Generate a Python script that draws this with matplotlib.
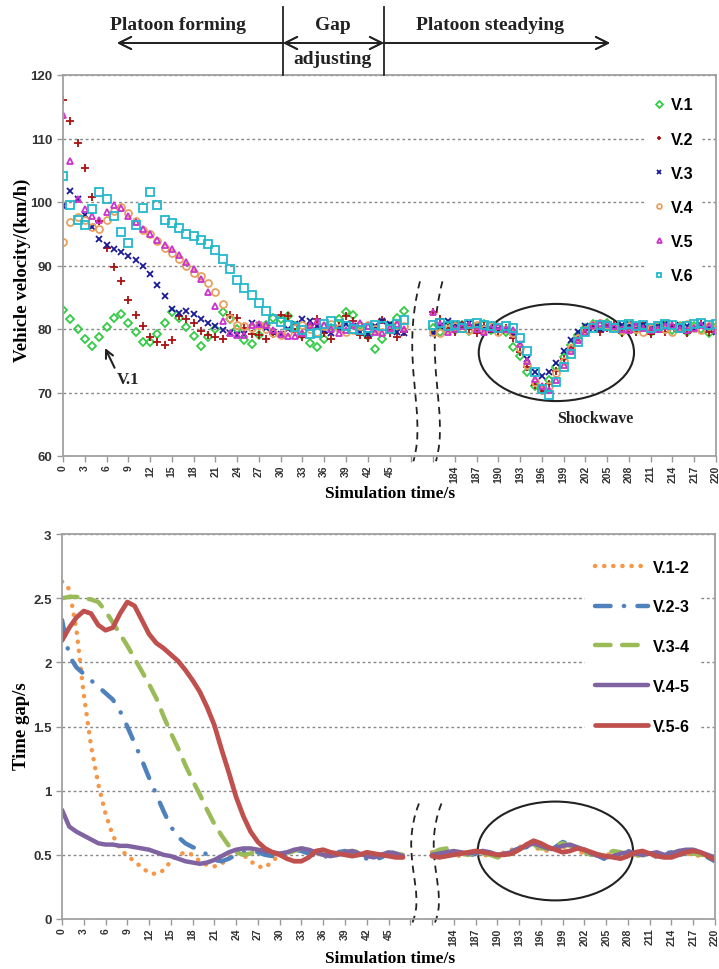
import numpy as np
import matplotlib.pyplot as plt
from matplotlib.patches import Ellipse, PathPatch
from matplotlib.path import Path

# time stamps of the two plotted windows (s)
t_a = list(range(0, 48))
t_b = list(range(181, 221))

# vehicle velocity (km/h), first window then second window
v1_a = [83.0, 81.6, 80.0, 78.5, 77.4, 78.8, 80.3, 81.7, 82.3, 80.9,
        79.5, 78.0, 78.0, 79.2, 80.9, 82.6, 81.8, 80.3, 78.9, 77.4,
        78.7, 80.0, 82.6, 81.5, 80.0, 78.3, 77.6, 79.0, 80.6, 81.8,
        81.5, 82.0, 80.5, 79.0, 77.8, 77.1, 78.5, 80.2, 81.6, 82.6,
        82.2, 80.6, 78.9, 76.8, 78.5, 80.4, 81.8, 82.8]
v1_b = [80.2, 79.5, 80.4, 79.8, 80.6, 79.7, 80.3, 80.8, 79.9, 80.2,
        79.6, 77.2, 75.8, 73.2, 71.0, 70.6, 72.0, 74.0, 75.6, 77.5,
        79.0, 80.2, 80.8, 80.5, 81.0, 80.2, 79.6, 80.4, 79.8, 80.3,
        79.5, 80.2, 80.7, 79.9, 80.4, 79.6, 80.5, 80.0, 79.4, 80.3]
v2_a = [116.1, 112.8, 109.3, 105.3, 100.8, 97.0, 92.7, 89.7, 87.6, 84.6,
        82.2, 80.4, 78.7, 78.0, 77.5, 78.3, 82.0, 81.5, 81.0, 79.7,
        79.0, 78.7, 78.5, 82.2, 81.8, 80.2, 79.2, 79.0, 78.5, 79.2,
        82.2, 82.0, 79.5, 78.8, 80.6, 81.6, 79.4, 78.5, 80.4, 82.0,
        81.2, 79.0, 78.6, 80.0, 81.4, 79.4, 78.8, 79.6]
v2_b = [82.6, 81.6, 80.2, 79.6, 80.6, 80.0, 79.4, 80.4, 80.0, 79.6,
        80.2, 78.6, 76.4, 74.0, 71.2, 70.2, 71.4, 73.4, 75.2, 77.0,
        78.6, 79.8, 80.4, 79.6, 80.2, 80.6, 79.4, 80.0, 79.6, 80.4,
        79.2, 80.0, 79.6, 80.6, 80.0, 79.4, 80.2, 80.8, 79.6, 80.0]
v3_a = [99.4, 101.7, 100.4, 98.0, 96.0, 94.1, 93.2, 92.6, 92.2, 91.5,
        90.8, 90.0, 88.7, 87.0, 85.2, 83.1, 82.5, 82.8, 82.4, 81.6,
        81.0, 80.5, 79.8, 79.3, 79.0, 79.2, 81.0, 80.6, 80.2, 79.6,
        79.2, 80.0, 80.8, 81.6, 81.2, 80.4, 79.8, 79.4, 80.2, 80.8,
        80.4, 79.6, 79.2, 80.4, 81.2, 80.8, 79.6, 79.4]
v3_b = [79.4, 80.4, 81.2, 80.8, 80.6, 80.9, 80.4, 80.2, 79.8, 80.0,
        79.8, 79.4, 77.6, 75.2, 73.2, 72.6, 73.2, 74.6, 76.6, 78.2,
        79.6, 80.4, 80.2, 80.0, 80.2, 80.4, 80.6, 80.8, 80.4, 80.6,
        80.2, 80.4, 80.8, 80.2, 80.6, 80.4, 80.0, 80.6, 80.2, 79.6]
v4_a = [93.7, 96.8, 97.6, 97.2, 96.0, 95.8, 97.2, 98.6, 99.2, 98.2,
        97.0, 95.6, 94.9, 93.8, 92.8, 91.9, 91.0, 90.0, 88.8, 88.4,
        87.3, 85.9, 84.0, 81.8, 80.6, 80.4, 80.2, 80.6, 80.0, 79.4,
        79.0, 79.6, 80.2, 80.6, 80.0, 79.6, 80.4, 80.8, 80.2, 79.6,
        79.8, 80.4, 80.6, 80.0, 79.6, 80.2, 80.6, 80.4]
v4_b = [79.6, 79.4, 80.0, 80.4, 80.2, 79.8, 80.6, 80.0, 80.4, 79.6,
        80.0, 79.4, 77.0, 74.4, 71.6, 70.4, 71.0, 73.0, 75.0, 77.0,
        78.6, 79.8, 80.6, 81.0, 80.6, 80.2, 79.8, 80.4, 80.0, 79.6,
        80.2, 80.6, 80.0, 79.6, 80.4, 80.8, 80.2, 79.8, 80.4, 80.2]
v5_a = [113.7, 106.5, 100.4, 98.9, 97.8, 97.2, 98.4, 99.6, 99.0, 97.8,
        96.8, 95.7, 95.0, 94.0, 93.3, 92.6, 91.6, 90.6, 89.4, 87.9,
        85.8, 83.7, 81.3, 79.3, 79.0, 79.0, 80.6, 80.8, 80.6, 79.8,
        79.2, 78.9, 78.9, 79.4, 80.6, 81.2, 80.6, 80.0, 79.4, 79.8,
        80.6, 81.0, 80.4, 79.6, 79.4, 80.2, 80.8, 80.0]
v5_b = [82.7, 80.8, 79.6, 80.0, 80.4, 80.6, 80.0, 79.6, 80.2, 80.4,
        80.0, 79.8, 77.6, 75.0, 72.2, 71.0, 70.4, 72.0, 74.4, 76.6,
        78.2, 79.6, 80.6, 81.0, 80.8, 80.4, 80.0, 79.8, 80.4, 80.2,
        79.8, 80.0, 80.4, 80.6, 80.0, 79.8, 80.2, 80.6, 80.4, 79.8]
v6_a = [104.1, 99.5, 97.1, 96.4, 98.9, 101.6, 100.4, 97.8, 95.2, 93.6,
        96.4, 99.0, 101.6, 99.6, 97.1, 96.7, 95.9, 94.9, 94.6, 94.0,
        93.4, 92.5, 91.0, 89.4, 87.7, 86.4, 85.3, 84.1, 82.9, 81.5,
        81.1, 80.6, 80.3, 79.8, 79.2, 79.4, 80.8, 81.2, 80.8, 80.4,
        80.0, 79.8, 80.2, 80.6, 80.4, 80.0, 80.8, 81.4]
v6_b = [80.6, 81.0, 80.4, 80.6, 80.2, 80.8, 81.0, 80.6, 80.4, 80.2,
        80.4, 80.2, 78.6, 76.6, 73.2, 70.6, 69.6, 71.6, 74.0, 76.0,
        78.0, 79.6, 80.2, 80.6, 80.4, 80.2, 80.6, 80.8, 80.4, 80.6,
        80.2, 80.4, 80.8, 80.6, 80.2, 80.4, 80.8, 81.0, 80.6, 80.8]

# time gap (s)
g12_a = [2.63, 2.57, 2.25, 1.75, 1.35, 1.05, 0.82, 0.65, 0.55, 0.49,
         0.45, 0.40, 0.36, 0.35, 0.38, 0.45, 0.50, 0.52, 0.50, 0.45,
         0.42, 0.41, 0.43, 0.48, 0.52, 0.50, 0.45, 0.41, 0.40, 0.45,
         0.50, 0.52, 0.53, 0.54, 0.53, 0.51, 0.50, 0.49, 0.50, 0.51,
         0.52, 0.51, 0.50, 0.49, 0.50, 0.51, 0.50, 0.49]
g12_b = [0.52, 0.50, 0.51, 0.50, 0.49, 0.50, 0.51, 0.50, 0.49, 0.50,
         0.52, 0.54, 0.56, 0.58, 0.56, 0.54, 0.53, 0.55, 0.56, 0.55,
         0.53, 0.51, 0.50, 0.49, 0.50, 0.51, 0.50, 0.49, 0.50, 0.51,
         0.50, 0.49, 0.50, 0.51, 0.52, 0.51, 0.50, 0.49, 0.50, 0.50]
g23_a = [2.33, 2.05, 1.96, 1.91, 1.86, 1.81, 1.76, 1.71, 1.62, 1.50,
         1.37, 1.24, 1.10, 0.97, 0.84, 0.72, 0.64, 0.59, 0.56, 0.54,
         0.50, 0.46, 0.45, 0.47, 0.50, 0.52, 0.53, 0.52, 0.50, 0.49,
         0.50, 0.52, 0.54, 0.53, 0.51, 0.49, 0.48, 0.50, 0.52, 0.53,
         0.51, 0.49, 0.47, 0.46, 0.48, 0.51, 0.52, 0.50]
g23_b = [0.50, 0.53, 0.54, 0.52, 0.50, 0.49, 0.51, 0.53, 0.51, 0.49,
         0.50, 0.53, 0.55, 0.56, 0.58, 0.56, 0.53, 0.56, 0.60, 0.58,
         0.55, 0.53, 0.51, 0.49, 0.46, 0.50, 0.52, 0.53, 0.51, 0.50,
         0.47, 0.49, 0.51, 0.52, 0.50, 0.51, 0.54, 0.52, 0.48, 0.45]
g34_a = [2.50, 2.51, 2.51, 2.50, 2.49, 2.47, 2.40, 2.31, 2.22, 2.13,
         2.03, 1.93, 1.83, 1.72, 1.58, 1.45, 1.33, 1.20, 1.08, 0.97,
         0.85, 0.74, 0.65, 0.57, 0.52, 0.50, 0.51, 0.53, 0.54, 0.52,
         0.50, 0.51, 0.53, 0.55, 0.54, 0.52, 0.50, 0.49, 0.50, 0.52,
         0.53, 0.52, 0.50, 0.49, 0.50, 0.52, 0.51, 0.50]
g34_b = [0.51, 0.54, 0.55, 0.53, 0.51, 0.50, 0.52, 0.51, 0.50, 0.48,
         0.49, 0.51, 0.54, 0.57, 0.58, 0.55, 0.55, 0.58, 0.59, 0.57,
         0.54, 0.52, 0.50, 0.50, 0.51, 0.53, 0.52, 0.50, 0.49, 0.50,
         0.51, 0.50, 0.49, 0.51, 0.53, 0.52, 0.51, 0.50, 0.50, 0.49]
g45_a = [0.85, 0.72, 0.68, 0.65, 0.62, 0.59, 0.58, 0.58, 0.57, 0.57,
         0.56, 0.55, 0.54, 0.52, 0.50, 0.49, 0.47, 0.45, 0.44, 0.43,
         0.44, 0.46, 0.49, 0.52, 0.54, 0.55, 0.55, 0.54, 0.53, 0.52,
         0.51, 0.52, 0.54, 0.55, 0.54, 0.52, 0.50, 0.49, 0.50, 0.52,
         0.53, 0.51, 0.49, 0.48, 0.50, 0.52, 0.51, 0.49]
g45_b = [0.50, 0.51, 0.52, 0.53, 0.52, 0.51, 0.52, 0.53, 0.52, 0.50,
         0.51, 0.52, 0.55, 0.57, 0.59, 0.57, 0.55, 0.55, 0.57, 0.58,
         0.56, 0.54, 0.51, 0.49, 0.48, 0.49, 0.51, 0.52, 0.51, 0.50,
         0.51, 0.52, 0.50, 0.51, 0.53, 0.54, 0.54, 0.52, 0.50, 0.48]
g56_a = [2.17, 2.27, 2.35, 2.40, 2.38, 2.29, 2.25, 2.27, 2.38, 2.47,
         2.44, 2.33, 2.22, 2.15, 2.11, 2.06, 2.01, 1.94, 1.86, 1.77,
         1.65, 1.51, 1.32, 1.14, 0.95, 0.80, 0.68, 0.60, 0.55, 0.52,
         0.50, 0.47, 0.45, 0.45, 0.48, 0.53, 0.54, 0.52, 0.51, 0.50,
         0.49, 0.50, 0.52, 0.51, 0.50, 0.49, 0.48, 0.48]
g56_b = [0.49, 0.48, 0.49, 0.50, 0.51, 0.52, 0.53, 0.52, 0.51, 0.50,
         0.50, 0.51, 0.54, 0.58, 0.61, 0.59, 0.56, 0.54, 0.52, 0.53,
         0.55, 0.54, 0.52, 0.50, 0.49, 0.48, 0.47, 0.49, 0.52, 0.53,
         0.51, 0.49, 0.48, 0.48, 0.50, 0.52, 0.53, 0.52, 0.49, 0.46]

# category axis: second window is shifted left to sit just after the break
shift_b = 130
x_a = np.array(t_a)
x_b = np.array(t_b) - shift_b
ticks = np.arange(0, 91, 3)
tick_labels = [str(p) if p <= 45 else (str(p + shift_b) if p >= 54 else '') for p in ticks]

serif = 'Liberation Serif'
sans = 'Liberation Sans'

fig = plt.figure(figsize=(7.19, 9.70), dpi=100)
ax1 = fig.add_axes([63 / 719, 1 - 457 / 970, 653 / 719, 381 / 970])
ax2 = fig.add_axes([62 / 719, 1 - 920 / 970, 653 / 719, 385 / 970])


def style_axes(ax, ymin, ymax, ystep):
    ax.set_xlim(0, 90)
    ax.set_ylim(ymin, ymax)
    ax.set_xticks(ticks)
    ax.set_xticklabels(tick_labels, rotation=90, fontsize=7.5, fontweight='bold',
                       family=sans, color='#333333')
    yt = np.arange(ymin, ymax + ystep / 2, ystep)
    ax.set_yticks(yt)
    ax.set_yticklabels(['%g' % v for v in yt], fontsize=9.5, fontweight='bold',
                       family=sans, color='#333333')
    ax.tick_params(axis='both', direction='out', length=4, color='#999999', width=1)
    ax.tick_params(axis='x', pad=2)
    for s in ax.spines.values():
        s.set_color('#a0a0a0')
        s.set_linewidth(1.3)
    ax.yaxis.grid(True, linestyle=(0, (2, 2)), color='#888888', lw=1.0)
    ax.set_axisbelow(True)


style_axes(ax1, 60, 120, 10)
style_axes(ax2, 0, 3, 0.5)
ax2.set_yticklabels(['0', '0.5', '1', '1.5', '2', '2.5', '3'])

# --- top chart: velocity markers
vel_series = [
    ('V.1', v1_a, v1_b, 'D', '#33cc44', 4.2),
    ('V.2', v2_a, v2_b, '+', '#aa1111', 5.5),
    ('V.3', v3_a, v3_b, 'x', '#1a1a99', 4.5),
    ('V.4', v4_a, v4_b, 'o', '#e8a060', 5.0),
    ('V.5', v5_a, v5_b, '^', '#cc33cc', 5.0),
    ('V.6', v6_a, v6_b, 's', '#22b8cc', 5.2),
]
for name, ya, yb, mk, col, ms in vel_series:
    xs = np.concatenate([x_a, x_b])
    ys = np.concatenate([ya, yb])
    ax1.plot(xs, ys, linestyle='none', marker=mk, ms=ms, mfc='none', mec=col,
             mew=1.3, label=name)

leg1 = ax1.legend(loc='upper right', bbox_to_anchor=(1.0, 1.0), frameon=True,
                  facecolor='white', edgecolor='none', framealpha=1, fancybox=False,
                  labelspacing=1.2, handlelength=0.7, handletextpad=0.4,
                  borderpad=0.5, borderaxespad=0.9,
                  prop={'family': sans, 'weight': 'bold', 'size': 11.5})
for h in leg1.legend_handles:
    h.set_markersize(3.5)

# --- bottom chart: time gap lines
gap_series = [
    ('V.1-2', g12_a, g12_b, '#f79646', (0, (0.05, 2.0)), 3.2),
    ('V.2-3', g23_a, g23_b, '#4f81bd', (0, (3.5, 3, 0.05, 3)), 3.2),
    ('V.3-4', g34_a, g34_b, '#9bbb59', (0, (3.5, 2.6)), 3.2),
    ('V.4-5', g45_a, g45_b, '#8064a2', '-', 3.2),
    ('V.5-6', g56_a, g56_b, '#c0504d', '-', 3.4),
]
for name, ya, yb, col, ls, lw in gap_series:
    ax2.plot(x_a, ya, color=col, linestyle=ls, lw=lw, dash_capstyle='round',
             solid_capstyle='round', label=name)
    ax2.plot(x_b, yb, color=col, linestyle=ls, lw=lw, dash_capstyle='round',
             solid_capstyle='round')

ax2.legend(loc='upper right', bbox_to_anchor=(1.0, 1.0), frameon=True,
           facecolor='white', edgecolor='none', framealpha=1, fancybox=False,
           labelspacing=1.55, handlelength=3.3, handletextpad=0.3,
           borderpad=0.6, borderaxespad=1.0,
           prop={'family': sans, 'weight': 'bold', 'size': 11.5})

# --- break marks between the two windows
def break_lines(ax, ytop, ybot):
    h = ytop - ybot
    for dx in (0.0, 3.1):
        verts = [(49.2 + dx, ytop), (46.4 + dx, ybot + 0.55 * h),
                 (50.2 + dx, ybot + 0.25 * h), (48.3 + dx, ybot - 0.03 * h)]
        p = Path(verts, [Path.MOVETO, Path.CURVE4, Path.CURVE4, Path.CURVE4])
        ax.add_patch(PathPatch(p, fill=False, lw=1.3, ls=(0, (4, 3)),
                               color='#222222', clip_on=False))


break_lines(ax1, 87.5, 60)
break_lines(ax2, 0.9, 0)

# --- ellipses and notes
ax1.add_patch(Ellipse((68, 76.3), 21.4, 15.3, fill=False, lw=1.5, color='#222222'))
ax2.add_patch(Ellipse((68, 0.53), 21.4, 0.77, fill=False, lw=1.5, color='#222222'))
ax1.text(73.3, 66.0, 'Shockwave', ha='center', va='center', family=serif,
         fontweight='bold', fontsize=11.5, color='#222222')
ax1.annotate('V.1', xy=(5.8, 77.0), xytext=(7.4, 72.2), ha='left', va='center',
             family=serif, fontweight='bold', fontsize=12, color='#222222',
             arrowprops=dict(arrowstyle='->', lw=1.5, color='#222222',
                             mutation_scale=14, shrinkA=0, shrinkB=0,
                             relpos=(0, 0.9)))

# axis titles
fig.text(22 / 719, 1 - 270 / 970, 'Vehicle velocity/(km/h)', rotation=90,
         ha='center', va='center', family=serif, fontweight='bold', fontsize=13.5)
fig.text(22 / 719, 1 - 726 / 970, 'Time gap/s', rotation=90,
         ha='center', va='center', family=serif, fontweight='bold', fontsize=13.5)
fig.text(390 / 719, 1 - 494 / 970, 'Simulation time/s', ha='center', va='center',
         family=serif, fontweight='bold', fontsize=12.5)
fig.text(390 / 719, 1 - 959 / 970, 'Simulation time/s', ha='center', va='center',
         family=serif, fontweight='bold', fontsize=12.5)

# --- phase header above the top chart
def fx(px):
    return px / 719


def fy(py):
    return 1 - py / 970


for px in (283, 384):
    fig.add_artist(plt.Line2D([fx(px), fx(px)], [fy(8), fy(76)], color='#222222', lw=1.3))
head = dict(arrowstyle='->', lw=1.3, color='#222222', mutation_scale=22,
            shrinkA=0, shrinkB=0)
fig.add_artist(plt.annotate('', xy=(fx(117), fy(44)), xytext=(fx(283), fy(44)),
                            xycoords='figure fraction', arrowprops=head))
fig.add_artist(plt.annotate('', xy=(fx(610), fy(44)), xytext=(fx(384), fy(44)),
                            xycoords='figure fraction', arrowprops=head))
fig.add_artist(plt.annotate('', xy=(fx(384), fy(44)), xytext=(fx(283), fy(44)),
                            xycoords='figure fraction',
                            arrowprops=dict(head, arrowstyle='<->')))
hdr = dict(family=serif, fontweight='bold', fontsize=14, ha='center', va='center',
           color='#222222')
fig.text(fx(178), fy(26), 'Platoon forming', **hdr)
fig.text(fx(333), fy(26), 'Gap', **hdr)
fig.text(fx(333), fy(60), 'adjusting', **hdr)
fig.text(fx(490), fy(26), 'Platoon steadying', **hdr)

fig.savefig('out.png', dpi=100)
